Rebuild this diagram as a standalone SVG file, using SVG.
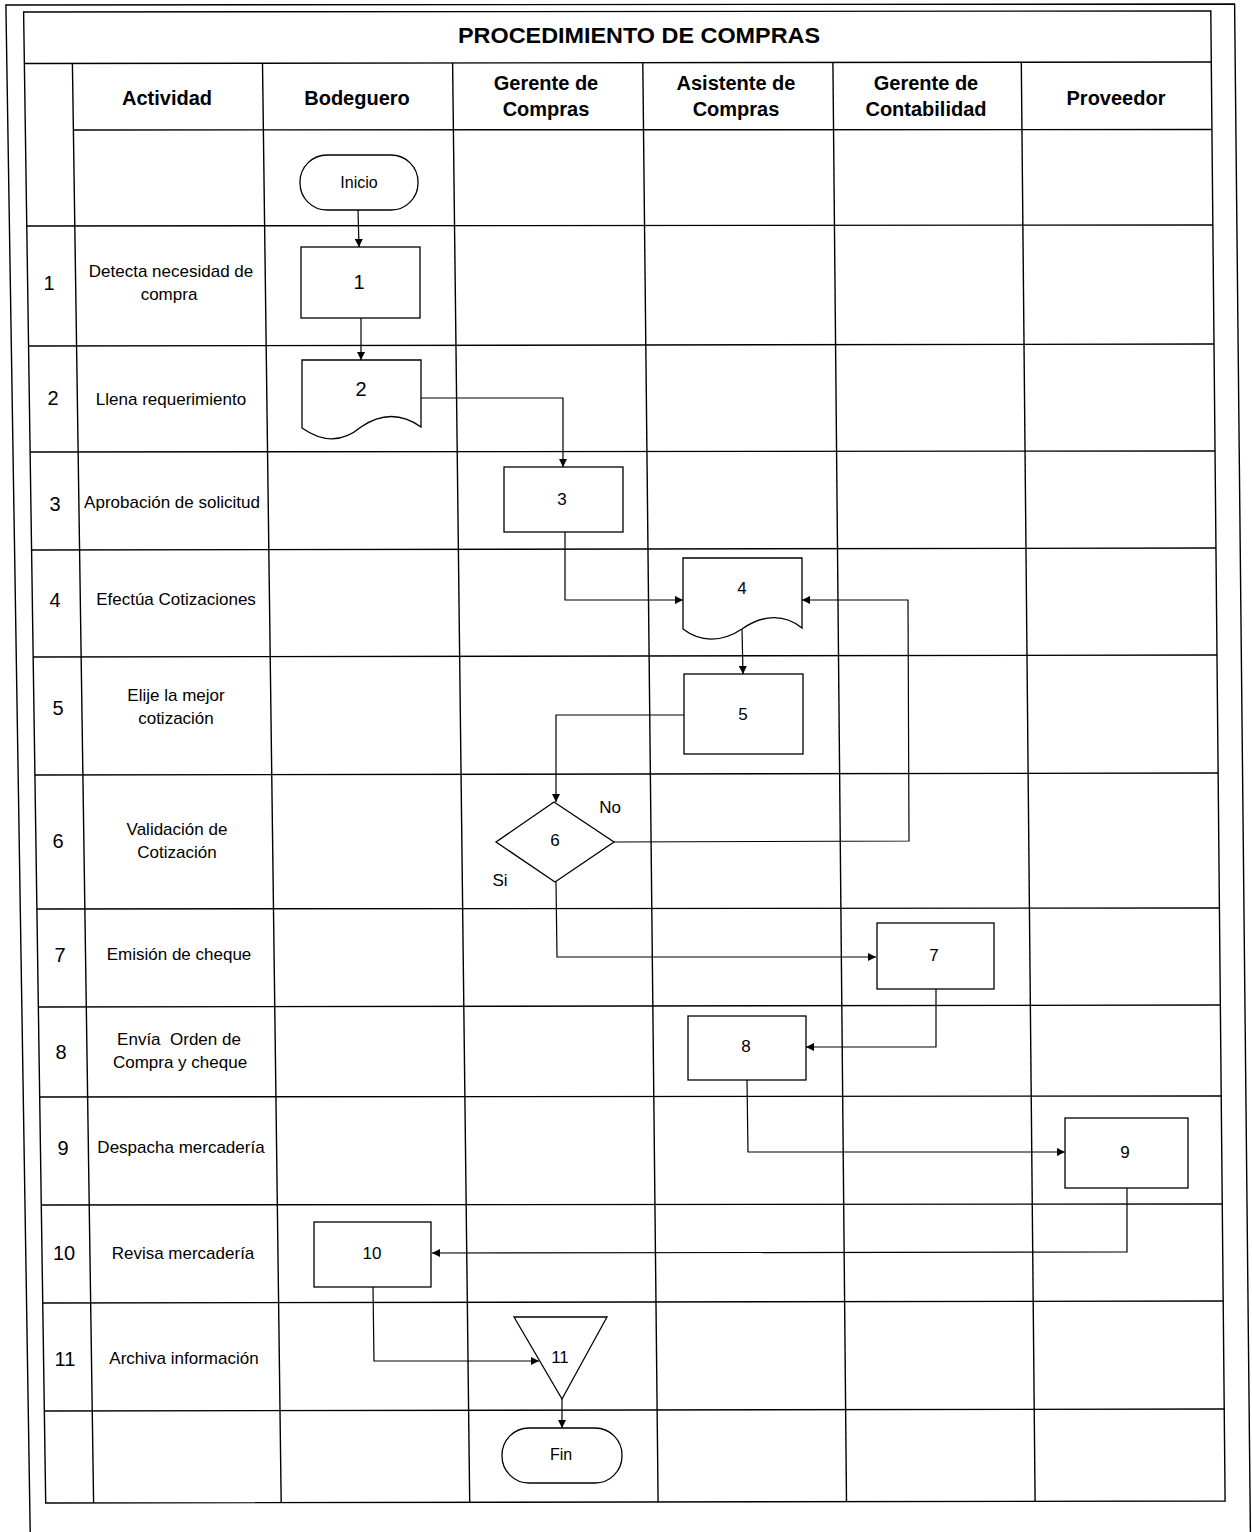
<svg xmlns="http://www.w3.org/2000/svg" width="1252" height="1532" viewBox="0 0 1252 1532">
  <defs>
    <marker id="arrow" viewBox="0 0 10 10" refX="10" refY="5" markerWidth="10" markerHeight="8" markerUnits="userSpaceOnUse" orient="auto">
      <path d="M0,0 L10,5 L0,10 Z" fill="#000"/>
    </marker>
    <style>
      .grid line, .grid polygon, .grid polyline { stroke: #000; stroke-width: 1.4; fill: none; }
      .shape { fill: #fff; stroke: #000; stroke-width: 1.3; }
      .conn path { fill: none; stroke: #000; stroke-width: 1.2; marker-end: url(#arrow); }
      text { font-family: "Liberation Sans", Arial, sans-serif; fill: #000; text-anchor: middle; }
      .title { font-size: 22px; font-weight: bold; }
      .head { font-size: 20px; font-weight: bold; }
      .act { font-size: 17px; white-space: pre; }
      .num { font-size: 20px; }
      .lbl { font-size: 17px; }
      .big { font-size: 20px; }
      .term { font-size: 16px; }
    </style>
  </defs>
  <rect width="1252" height="1532" fill="#fff"/>

  <!-- swimlane table -->
  <g id="table" class="grid">
    <polyline points="30.2,1532 5.9,5 1234.6,4 1250.4,1532"/>
    <polygon points="23.6,12 1210.8,11 1225.1,1501 45.7,1503"/>
    <line x1="24.4" y1="63.5" x2="1211.3" y2="62"/>
    <line x1="73.4" y1="130" x2="1211.9" y2="129.5"/>
    <line x1="26.8" y1="226" x2="1213.0" y2="225"/>
    <line x1="28.5" y1="346" x2="1214.0" y2="344"/>
    <line x1="30.1" y1="452" x2="1215.0" y2="451"/>
    <line x1="31.6" y1="550" x2="1216.0" y2="548"/>
    <line x1="33.1" y1="657" x2="1217.0" y2="655"/>
    <line x1="34.9" y1="775" x2="1218.1" y2="773"/>
    <line x1="36.9" y1="909" x2="1219.4" y2="908"/>
    <line x1="38.3" y1="1007" x2="1220.4" y2="1005"/>
    <line x1="39.7" y1="1097" x2="1221.2" y2="1096"/>
    <line x1="41.3" y1="1205" x2="1222.3" y2="1204"/>
    <line x1="42.7" y1="1303" x2="1223.2" y2="1301"/>
    <line x1="44.3" y1="1411" x2="1224.3" y2="1409"/>
    <line x1="72.4" y1="63" x2="93.6" y2="1503"/>
    <line x1="262.5" y1="63" x2="281.2" y2="1503"/>
    <line x1="452.6" y1="63" x2="469.7" y2="1502"/>
    <line x1="642.8" y1="63" x2="658.1" y2="1502"/>
    <line x1="832.9" y1="62" x2="846.5" y2="1502"/>
    <line x1="1021.3" y1="62" x2="1035.1" y2="1501"/>
  </g>

  <!-- title and lane headers -->
  <g id="headers">
    <text class="title" x="639" y="43" textLength="362" lengthAdjust="spacingAndGlyphs">PROCEDIMIENTO DE COMPRAS</text>
    <text class="head" x="167" y="105">Actividad</text>
    <text class="head" x="357" y="105">Bodeguero</text>
    <text class="head" x="546" y="90">Gerente de</text>
    <text class="head" x="546" y="116">Compras</text>
    <text class="head" x="736" y="90">Asistente de</text>
    <text class="head" x="736" y="116">Compras</text>
    <text class="head" x="926" y="90">Gerente de</text>
    <text class="head" x="926" y="116">Contabilidad</text>
    <text class="head" x="1116" y="105">Proveedor</text>
  </g>

  <!-- step numbers and activity descriptions -->
  <g id="activities">
    <text class="num" x="49" y="290">1</text>
    <text class="num" x="53" y="405">2</text>
    <text class="num" x="55" y="511">3</text>
    <text class="num" x="55" y="607">4</text>
    <text class="num" x="58" y="715">5</text>
    <text class="num" x="58" y="848">6</text>
    <text class="num" x="60" y="962">7</text>
    <text class="num" x="61" y="1059">8</text>
    <text class="num" x="63" y="1155">9</text>
    <text class="num" x="64" y="1260">10</text>
    <text class="num" x="65" y="1366">11</text>

    <text class="act" x="171" y="277">Detecta necesidad de</text>
    <text class="act" x="169" y="300">compra</text>
    <text class="act" x="171" y="405">Llena requerimiento</text>
    <text class="act" x="172" y="508">Aprobación de solicitud</text>
    <text class="act" x="176" y="605">Efectúa Cotizaciones</text>
    <text class="act" x="176" y="701">Elije la mejor</text>
    <text class="act" x="176" y="724">cotización</text>
    <text class="act" x="177" y="835">Validación de</text>
    <text class="act" x="177" y="858">Cotización</text>
    <text class="act" x="179" y="960">Emisión de cheque</text>
    <text class="act" x="179" y="1045">Envía  Orden de</text>
    <text class="act" x="180" y="1068">Compra y cheque</text>
    <text class="act" x="181" y="1153">Despacha mercadería</text>
    <text class="act" x="183" y="1259">Revisa mercadería</text>
    <text class="act" x="184" y="1364">Archiva información</text>
  </g>

  <!-- connectors -->
  <g id="connectors" class="conn">
    <path d="M358,210 L359,247"/>
    <path d="M361,318 L361,360"/>
    <path d="M421,398 L563,398 L563,467"/>
    <path d="M565,532 L565,600 L683,600"/>
    <path d="M742,629 L743,674"/>
    <path d="M684,715 L556,715 L556,802"/>
    <path d="M614,842 L909,841 L908,600 L802,600"/>
    <path d="M556,882 L557,957 L876,957"/>
    <path d="M936,989 L936,1047 L806,1047"/>
    <path d="M747,1080 L748,1152 L1065,1152"/>
    <path d="M1127,1188 L1127,1252 L432,1253"/>
    <path d="M373,1287 L374,1361 L539,1361"/>
    <path d="M562,1399 L562,1428"/>
  </g>

  <!-- flowchart nodes -->
  <g id="inicio">
    <rect class="shape" x="300" y="155" width="118" height="55" rx="27" ry="27"/>
    <text class="term" x="359" y="188">Inicio</text>
  </g>
  <g id="step1">
    <rect class="shape" x="301" y="247" width="119" height="71"/>
    <text class="big" x="359" y="289">1</text>
  </g>
  <g id="step2">
    <path class="shape" d="M302,360 H421 V427 C400,412 380,414 361,427 C342,443 322,442 302,428 Z"/>
    <text class="big" x="361" y="396">2</text>
  </g>
  <g id="step3">
    <rect class="shape" x="504" y="467" width="119" height="65"/>
    <text class="lbl" x="562" y="505">3</text>
  </g>
  <g id="step4">
    <path class="shape" d="M683,558 H802 V628 C785,614 763,614 742,629 C721,643 700,642 683,629 Z"/>
    <text class="lbl" x="742" y="594">4</text>
  </g>
  <g id="step5">
    <rect class="shape" x="684" y="674" width="119" height="80"/>
    <text class="lbl" x="743" y="720">5</text>
  </g>
  <g id="step6">
    <polygon class="shape" points="554,802 614,842 555,882 496,842"/>
    <text class="lbl" x="555" y="846">6</text>
    <text class="lbl" x="610" y="813">No</text>
    <text class="lbl" x="500" y="886">Si</text>
  </g>
  <g id="step7">
    <rect class="shape" x="877" y="923" width="117" height="66"/>
    <text class="lbl" x="934" y="961">7</text>
  </g>
  <g id="step8">
    <rect class="shape" x="688" y="1016" width="118" height="64"/>
    <text class="lbl" x="746" y="1052">8</text>
  </g>
  <g id="step9">
    <rect class="shape" x="1065" y="1118" width="123" height="70"/>
    <text class="lbl" x="1125" y="1158">9</text>
  </g>
  <g id="step10">
    <rect class="shape" x="314" y="1222" width="117" height="65"/>
    <text class="lbl" x="372" y="1259">10</text>
  </g>
  <g id="step11">
    <polygon class="shape" points="514,1317 607,1317 562,1399"/>
    <text class="lbl" x="560" y="1363">11</text>
  </g>
  <g id="fin">
    <rect class="shape" x="502" y="1428" width="120" height="55" rx="27" ry="27"/>
    <text class="term" x="561" y="1460">Fin</text>
  </g>
</svg>
